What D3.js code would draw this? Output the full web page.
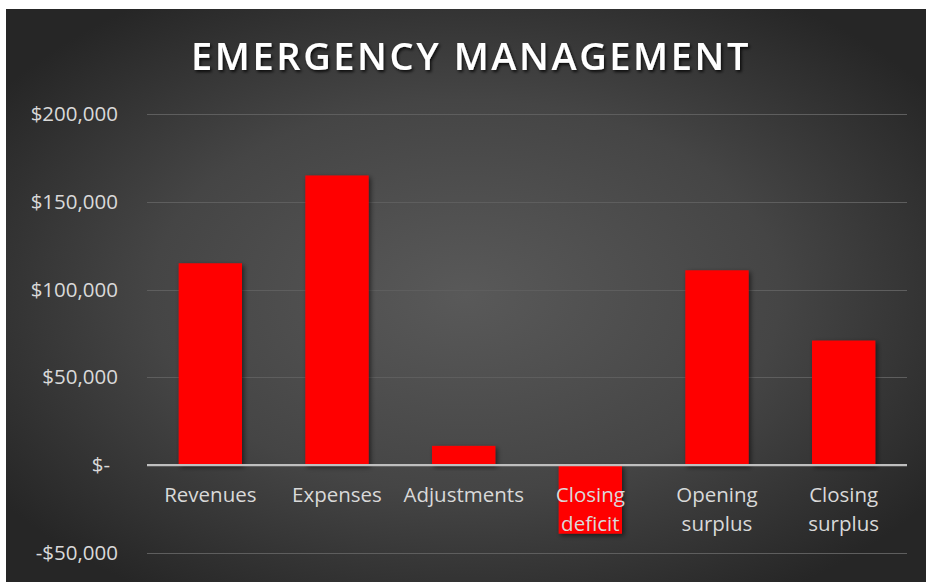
<!DOCTYPE html>
<html>
<head>
<meta charset="utf-8">
<script src="https://cdn.jsdelivr.net/npm/d3@7"></script>
<style>
  html, body { margin: 0; padding: 0; background: #ffffff; }
  svg { display: block; }
</style>
</head>
<body>
<svg id="chart" width="927" height="582"></svg>
<script>
const title = "EMERGENCY MANAGEMENT";
const categories = ["Revenues", "Expenses", "Adjustments", "Closing deficit", "Opening surplus", "Closing surplus"];
const categoryLines = [["Revenues"], ["Expenses"], ["Adjustments"], ["Closing", "deficit"], ["Opening", "surplus"], ["Closing", "surplus"]];
const values = [115000, 165000, 11000, -39000, 111000, 71000];
const yTicks = [-50000, 0, 50000, 100000, 150000, 200000];
const yTickLabels = ["-$50,000", "$-", "$50,000", "$100,000", "$150,000", "$200,000"];

const W = 927, H = 582;
const svg = d3.select("#chart");
const defs = svg.append("defs");

const rg = defs.append("radialGradient").attr("id", "bg")
  .attr("cx", "50%").attr("cy", "50%").attr("r", "62%");
rg.append("stop").attr("offset", "0%").attr("stop-color", "#595959");
rg.append("stop").attr("offset", "55%").attr("stop-color", "#454545");
rg.append("stop").attr("offset", "100%").attr("stop-color", "#262626");

const sh = defs.append("filter").attr("id", "shadow").attr("x", "-20%").attr("y", "-20%").attr("width", "150%").attr("height", "150%");
sh.append("feDropShadow").attr("dx", 2).attr("dy", 2).attr("stdDeviation", 2.5).attr("flood-color", "#000").attr("flood-opacity", 0.55);

const tsh = defs.append("filter").attr("id", "tshadow").attr("x", "-10%").attr("y", "-30%").attr("width", "120%").attr("height", "160%");
tsh.append("feDropShadow").attr("dx", 1.5).attr("dy", 2).attr("stdDeviation", 1.5).attr("flood-color", "#000").attr("flood-opacity", 0.8);

svg.append("rect").attr("x", 6).attr("y", 9).attr("width", W - 7).attr("height", H - 9).attr("fill", "url(#bg)");

const x = d3.scaleBand().domain(categories).range([147, 907]).paddingInner(0.5).paddingOuter(0.25);
const y = d3.scaleLinear().domain([-50000, 200000]).range([553, 114]);

// gridlines
svg.append("g").selectAll("line").data(yTicks.filter(d => d !== 0)).join("line")
  .attr("x1", 147).attr("x2", 907)
  .attr("y1", d => Math.round(y(d)) + 0.5).attr("y2", d => Math.round(y(d)) + 0.5)
  .attr("stroke", "#5e5e5e").attr("stroke-width", 1.2);

// y axis labels
const yAxis = d3.axisLeft(y).tickValues(yTicks)
  .tickFormat(d => yTickLabels[yTicks.indexOf(d)]).tickSize(0).tickPadding(0);
const ya = svg.append("g").attr("transform", "translate(118,0)").call(yAxis);
ya.select(".domain").remove();
ya.selectAll("text")
  .attr("fill", "#d9d9d9")
  .style("font-family", "'Open Sans', sans-serif")
  .style("font-size", "20.5px")
  .attr("dx", d => d === 0 ? -8 : 0);

// bars
svg.append("g").selectAll("rect").data(values).join("rect")
  .attr("x", (d, i) => x(categories[i]))
  .attr("width", x.bandwidth())
  .attr("y", d => y(Math.max(0, d)))
  .attr("height", d => Math.abs(y(d) - y(0)))
  .attr("fill", "#ff0000")
  .attr("filter", "url(#shadow)");

// zero line
svg.append("line").attr("x1", 147).attr("x2", 907)
  .attr("y1", y(0)).attr("y2", y(0))
  .attr("stroke", "#bfbfbf").attr("stroke-width", 2.2);

// category labels
const xAxis = d3.axisBottom(x).tickSize(0).tickFormat("");
const xa = svg.append("g").attr("transform", `translate(0,${y(0)})`).call(xAxis);
xa.select(".domain").remove();
xa.selectAll(".tick").each(function(d) {
  const i = categories.indexOf(d);
  const t = d3.select(this).append("text")
    .attr("fill", "#d9d9d9")
    .attr("text-anchor", "middle")
    .style("font-family", "'Open Sans', sans-serif")
    .style("font-size", "20.5px");
  categoryLines[i].forEach((line, k) => {
    t.append("tspan").attr("x", 0).attr("y", 37 + k * 29).text(line);
  });
});

// title
svg.append("text")
  .attr("x", 471).attr("y", 70)
  .attr("text-anchor", "middle")
  .attr("fill", "#ffffff")
  .attr("filter", "url(#tshadow)")
  .style("font-family", "'Open Sans', sans-serif")
  .style("font-weight", 600)
  .style("font-size", "38px")
  .style("letter-spacing", "2.6px")
  .text(title);
</script>
</body>
</html>
